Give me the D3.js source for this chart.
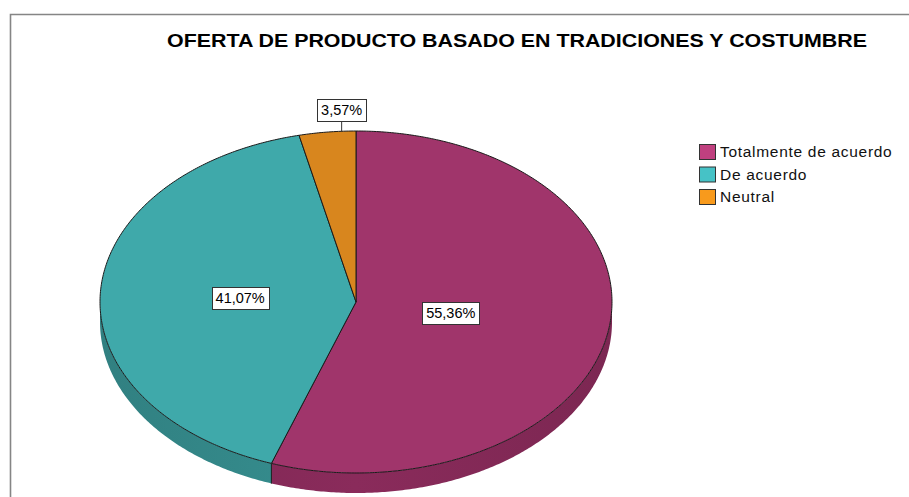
<!DOCTYPE html>
<html>
<head>
<meta charset="utf-8">
<script src="https://cdn.jsdelivr.net/npm/d3@7"></script>
<style>
  body { margin: 0; background: #fff; }
  svg { display: block; }
</style>
</head>
<body>
<div id="chart"></div>
<script>
var title = "OFERTA DE PRODUCTO BASADO EN TRADICIONES Y COSTUMBRE";
var categories = ["Totalmente de acuerdo", "De acuerdo", "Neutral"];
var percents = [55.36, 41.07, 3.57];
var labels = ["55,36%", "41,07%", "3,57%"];
var topColors = ["#a0356b", "#3fa9aa", "#d8861e"];
var sideColors = ["#8a2b5b", "#368f90", "#b56f17"];
var legendColors = ["#c0407f", "#46c2c6", "#f89a1c"];

var width = 909, height = 497;
var cx = 356, cy = 302, rx = 256, ry = 171, depth = 20;
var font = "'Liberation Sans', Arial, sans-serif";

var svg = d3.select("#chart")
	.append("svg")
	.attr("width", width)
	.attr("height", height);

// frame (only top and left are in the picture)
svg.append("path")
	.attr("d", "M10.5,497 L10.5,14.5 L909,14.5")
	.attr("fill", "none")
	.attr("stroke", "#858585")
	.attr("stroke-width", 1.6);

svg.append("text")
	.attr("x", 517)
	.attr("y", 47)
	.attr("text-anchor", "middle")
	.attr("font-family", font)
	.attr("font-weight", "bold")
	.attr("font-size", "19px")
	.attr("textLength", 700)
	.attr("lengthAdjust", "spacingAndGlyphs")
	.attr("fill", "#000")
	.text(title);

var pie = d3.pie().sort(null).startAngle(0).endAngle(2 * Math.PI);
var arcs = pie(percents);

// angle measured clockwise from 12 o'clock, squashed onto the ellipse
function pt(a, r, dy) {
	return [cx + r * rx * Math.sin(a), cy - r * ry * Math.cos(a) + (dy || 0)];
}
function arcPoints(a0, a1, dy) {
	var n = Math.max(2, Math.ceil((a1 - a0) / 0.01));
	return d3.range(n + 1).map(function(i) { return pt(a0 + (a1 - a0) * i / n, 1, dy); });
}
var line = d3.line();

// side shading
var defs = svg.append("defs");
categories.forEach(function(c, i) {
	var g = defs.append("linearGradient")
		.attr("id", "side" + i)
		.attr("gradientUnits", "userSpaceOnUse")
		.attr("x1", cx - rx).attr("x2", cx + rx)
		.attr("y1", 0).attr("y2", 0);
	g.append("stop").attr("offset", 0).attr("stop-color", d3.color(sideColors[i]).darker(0.3));
	g.append("stop").attr("offset", 0.5).attr("stop-color", sideColors[i]);
	g.append("stop").attr("offset", 1).attr("stop-color", d3.color(sideColors[i]).darker(0.3));
});

// front wall, visible between 90 and 270 degrees
var lo = Math.PI / 2, hi = 3 * Math.PI / 2;
arcs.forEach(function(d, i) {
	var a0 = Math.max(d.startAngle, lo), a1 = Math.min(d.endAngle, hi);
	if (a1 <= a0) return;
	var p = arcPoints(a0, a1, 0).concat(arcPoints(a0, a1, depth).reverse());
	svg.append("path")
		.attr("d", line(p) + "Z")
		.attr("fill", "url(#side" + i + ")");
	[d.startAngle, d.endAngle].forEach(function(a) {
		if (a > lo && a < hi) {
			svg.append("path")
				.attr("d", line([pt(a, 1), pt(a, 1, depth)]))
				.attr("stroke", "#222").attr("stroke-width", 1);
		}
	});
});

// top face
svg.selectAll("path.slice")
	.data(arcs)
	.join("path")
	.attr("class", "slice")
	.attr("d", function(d) { return line([[cx, cy]].concat(arcPoints(d.startAngle, d.endAngle, 0))) + "Z"; })
	.attr("fill", function(d, i) { return topColors[i]; })
	.attr("stroke", "#1a1a1a")
	.attr("stroke-width", 1)
	.attr("stroke-linejoin", "round");

// value labels
function labelBox(x, y, txt) {
	var g = svg.append("g");
	var t = g.append("text")
		.attr("font-family", font)
		.attr("font-size", "14.5px")
		.attr("fill", "#000")
		.attr("text-anchor", "middle")
		.attr("x", x)
		.attr("y", y + 5)
		.text(txt);
	var bb = t.node().getBBox();
	g.insert("rect", "text")
		.attr("x", Math.round(bb.x - 4) + 0.5)
		.attr("y", Math.round(y - 11) + 0.5)
		.attr("width", Math.round(bb.width + 8))
		.attr("height", 22)
		.attr("fill", "#fff")
		.attr("stroke", "#333")
		.attr("stroke-width", 1);
}

arcs.forEach(function(d, i) {
	var half = (d.endAngle - d.startAngle) / 2;
	var mid = d.startAngle + half;
	var p;
	if (percents[i] > 10) {
		// blend of sector centroid and a fixed inset
		var r = 0.655 * 2 * Math.sin(half) / (3 * half) + 0.128;
		p = pt(mid, r);
		labelBox(p[0], p[1], labels[i]);
	} else {
		p = pt((mid + d.endAngle) / 2, 1);
		svg.append("line")
			.attr("x1", p[0]).attr("x2", p[0])
			.attr("y1", p[1]).attr("y2", p[1] - 10)
			.attr("stroke", "#333").attr("stroke-width", 1);
		labelBox(p[0], p[1] - 21, labels[i]);
	}
});

// legend
var legend = svg.append("g").attr("transform", "translate(699,144)");
var rows = legend.selectAll("g")
	.data(categories)
	.join("g")
	.attr("transform", function(d, i) { return "translate(0," + (i * 22.5) + ")"; });
rows.append("rect")
	.attr("x", 0.5).attr("y", 0.5)
	.attr("width", 16).attr("height", 15)
	.attr("fill", function(d, i) { return legendColors[i]; })
	.attr("stroke", "#333")
	.attr("stroke-width", 1);
rows.append("text")
	.attr("x", 21)
	.attr("y", 13)
	.attr("font-family", font)
	.attr("font-size", "15.5px")
	.attr("letter-spacing", "0.7px")
	.attr("fill", "#111")
	.text(function(d) { return d; });
</script>
</body>
</html>
